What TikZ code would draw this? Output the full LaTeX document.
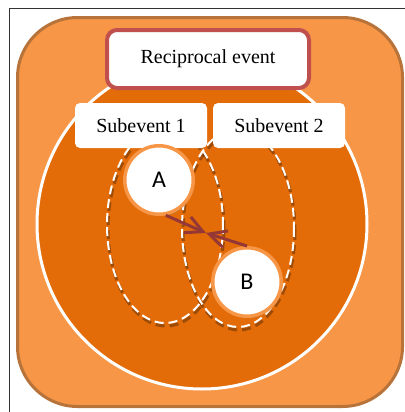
\documentclass[tikz,border=0pt]{standalone}
\usepackage{fontspec}
\setmainfont{Liberation Serif}
\newfontfamily\letra{Carlito}
\usetikzlibrary{arrows.meta,shadows}

\definecolor{naranjaclaro}{HTML}{F79646}
\definecolor{naranjaoscuro}{HTML}{E36C09}
\definecolor{borde}{HTML}{B7733A}
\definecolor{rojo}{HTML}{C0504D}
\definecolor{granate}{HTML}{953735}

\begin{document}
\begin{tikzpicture}[x=0.5pt, y=-0.5pt,
    caja/.style={fill=white, rounded corners=2.5pt, minimum width=66pt, minimum height=22.5pt, font=\fontsize{10}{12}\selectfont},
    persona/.style={circle, draw=naranjaclaro, line width=1.75pt, fill=white, minimum size=34.25pt, inner sep=0pt,
      font=\letra\fontsize{12}{14}\selectfont, drop shadow={shadow xshift=0.5pt, shadow yshift=-1pt, opacity=0.3}},
    sub/.style={draw=white, line width=1pt, dash pattern=on 4.5pt off 2.5pt},
    sombra/.style={draw=black, opacity=0.3, line width=1.5pt, dash pattern=on 4.5pt off 2.5pt},
    flecha/.style={draw=granate, line width=1.5pt, -{Straight Barb[length=8.5pt, width=8.6pt]}}]

      \useasboundingbox (0,0) rectangle (405,412);

      % Marco
      \draw[black!80, line width=0.5pt] (405,8) -- (9,8) -- (9,412);

      % Fondo
      \draw[draw=borde, fill=naranjaclaro, line width=1.5pt, rounded corners=30pt] (17.5,17.5) rectangle (402.5,406.5);
      \draw[draw=white, fill=naranjaoscuro, line width=1.5pt] (202,224) circle (165);

      % Subeventos (elipses punteadas)
      \draw[sombra] (166,228) ellipse [x radius=58, y radius=98];
      \draw[sombra] (239,231) ellipse [x radius=56, y radius=99];
      \draw[sub] (165,225) ellipse [x radius=58, y radius=98];
      \draw[sub] (238,228) ellipse [x radius=56, y radius=99];

      % Etiquetas
      \node[draw=rojo, line width=2pt, fill=white, rounded corners=5pt, minimum width=101pt, minimum height=29pt,
        font=\fontsize{10}{12}\selectfont] (reciproco) at (208,59) {Reciprocal event};
      \node[caja] (sub1) at (141,125.5) {Subevent 1};
      \node[caja] (sub2) at (279,125.5) {Subevent 2};

      % Participantes
      \node[persona] (A) at (159,180) {A};
      \node[persona] (B) at (247,282) {B};

      % Flechas
      \coordinate (cruce) at (206,233);
      \draw[flecha] (A.-79) -- (cruce);
      \draw[flecha] (B.north) -- (cruce);
\end{tikzpicture}
\end{document}
